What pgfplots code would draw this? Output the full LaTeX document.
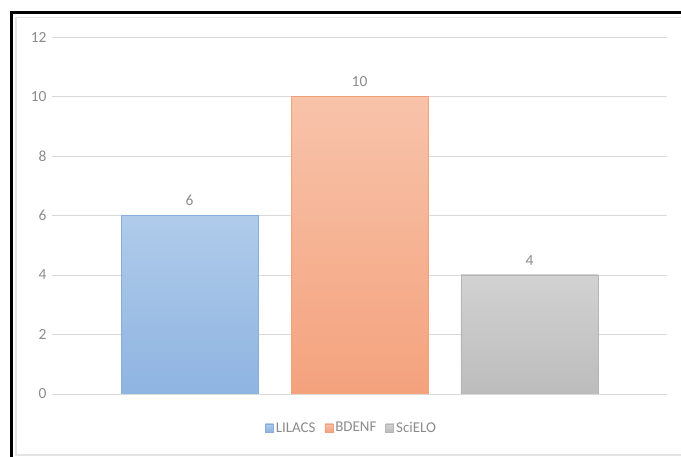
\documentclass[border=0pt]{standalone}
\usepackage{pgfplots}
\pgfplotsset{compat=1.18}
\usepackage{fontspec}
\setmainfont{Carlito}
\definecolor{gridc}{HTML}{D9D9D9}
\definecolor{txt}{HTML}{8C8C8C}
\definecolor{bluetop}{HTML}{B0CBEA}
\definecolor{bluebot}{HTML}{8EB4E1}
\definecolor{blueedge}{HTML}{8AAEDA}
\definecolor{orgtop}{HTML}{F8C3AA}
\definecolor{orgbot}{HTML}{F4A27D}
\definecolor{orgedge}{HTML}{F2A07C}
\definecolor{grytop}{HTML}{D2D2D2}
\definecolor{grybot}{HTML}{BCBCBC}
\definecolor{gryedge}{HTML}{B5B5B5}
\begin{document}
\begin{tikzpicture}
\useasboundingbox (0,0) rectangle (681bp,457bp);
\fill[white] (0,0) rectangle (681bp,457bp);
\draw[gridc!70, line width=1.2bp] (16bp,2bp) rectangle (700bp,439.5bp);
\draw[black, line width=3bp] (11.5bp,-10bp) -- (11.5bp,444bp) -- (700bp,444bp);
\begin{axis}[
  at={(52bp,63bp)}, anchor=south west,
  scale only axis,
  width=615bp, height=357bp,
  xmin=-0.809, xmax=2.809,
  ymin=0, ymax=12,
  ytick={0,2,...,12},
  xtick=\empty,
  axis line style={draw=none},
  major tick length=0pt,
  ymajorgrids,
  grid style={gridc, line width=0.9bp},
  ybar, bar width=137bp,
  font=\fontsize{15.5}{17}\selectfont,
  /pgf/number format/assume math mode=true,
  yticklabel style={text=txt, xshift=-2bp},
  nodes near coords,
  every node near coord/.append style={text=txt, font=\fontsize{15.5}{17}\selectfont, yshift=6bp},
  legend style={at={(0.487,-0.095)}, anchor=center, draw=none, fill=none,
    legend columns=-1, font=\fontsize{15}{17}\selectfont, text=txt,
    /tikz/every even column/.append style={column sep=7bp}},
  legend image code/.code={\fill[#1] (0bp,-4bp) rectangle (8bp,4bp);},
]
\addplot[bar shift=0pt, draw=blueedge, top color=bluetop, bottom color=bluebot, shading=axis, line width=0.8bp] coordinates {(0,6)};
\addplot[bar shift=0pt, draw=orgedge, top color=orgtop, bottom color=orgbot, shading=axis, line width=0.8bp] coordinates {(1,10)};
\addplot[bar shift=0pt, draw=gryedge, top color=grytop, bottom color=grybot, shading=axis, line width=0.8bp] coordinates {(2,4)};
\legend{LILACS, BDENF, SciELO}
\end{axis}
\end{tikzpicture}
\end{document}
